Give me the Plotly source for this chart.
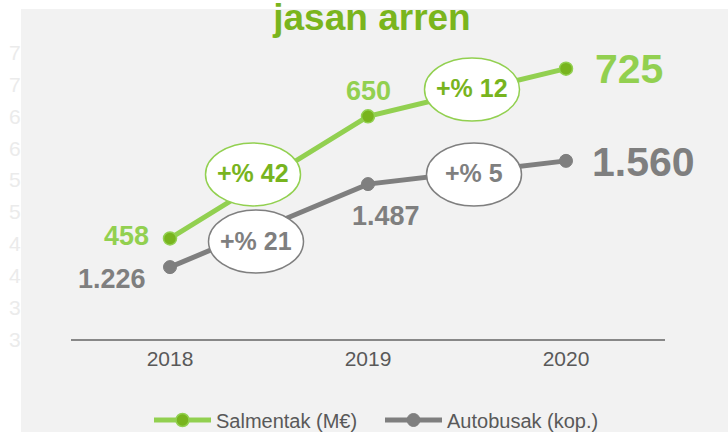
import plotly.graph_objects as go

# ---------------- data ----------------
years = ["2018", "2019", "2020"]
sales = [458, 650, 725]            # Salmentak (M€)
buses = [1226, 1487, 1560]         # Autobusak (kop.)
sales_growth = ["+% 42", "+% 12"]
buses_growth = ["+% 21", "+% 5"]
y_tick_vals = [300, 350, 400, 450, 500, 550, 600, 650, 700, 750]
title_text = "jasan arren"
series_names = ["Salmentak (M€)", "Autobusak (kop.)"]

# ---------------- styles ----------------
FONT = "Liberation Sans, Arial, sans-serif"
GREEN_LINE = "#92d050"
GREEN_DARK = "#78b41e"
GREY = "#7f7f7f"
TXT = "#595959"
W, H = 728, 432
ML, MR, MT, MB = 71, 63, 40, 93
PW = W - ML - MR
PH = H - MT - MB

def fmt(v):
    return f"{v:,}".replace(",", ".")

fig = go.Figure()
fig.add_trace(go.Scatter(
    x=years, y=sales, name=series_names[0], mode="lines+markers",
    line=dict(color=GREEN_LINE, width=5),
    marker=dict(size=13, color=GREEN_DARK, line=dict(color=GREEN_LINE, width=1.5)),
    yaxis="y", cliponaxis=False))
fig.add_trace(go.Scatter(
    x=years, y=buses, name=series_names[1], mode="lines+markers",
    line=dict(color=GREY, width=5),
    marker=dict(size=13, color=GREY, line=dict(color=GREY, width=1)),
    yaxis="y2", cliponaxis=False))

shapes = [dict(type="rect", xref="paper", yref="paper",
               x0=(21 - ML) / PW, x1=1 + MR / PW,
               y0=-MB / PH, y1=1 + (MT - 9) / PH,
               fillcolor="#f2f2f2", line=dict(width=0), layer="below")]
annotations = []

# data labels (offsets in px: xshift, yshift, xanchor, size)
sales_lbl_style = [(-19, 2, "right", 27), (0, 25, "center", 27), (27, 0, "left", 41)]
buses_lbl_style = [(-22, -12, "right", 27), (18, -32, "center", 27), (24, -1, "left", 41)]
for i, v in enumerate(sales):
    dx, dy, xa, sz = sales_lbl_style[i]
    annotations.append(dict(x=i, y=v, xref="x", yref="y", text=fmt(v),
                            showarrow=False, xshift=dx, yshift=dy, xanchor=xa, yanchor="middle",
                            font=dict(family=FONT, size=sz, color=GREEN_LINE, weight="bold")))
for i, v in enumerate(buses):
    dx, dy, xa, sz = buses_lbl_style[i]
    annotations.append(dict(x=i, y=v, xref="x", yref="y2", text=fmt(v),
                            showarrow=False, xshift=dx, yshift=dy, xanchor=xa, yanchor="middle",
                            font=dict(family=FONT, size=sz, color=GREY, weight="bold")))

# growth ellipses (px offsets from segment midpoint)
EW, EH = 95, 63
sales_ell_off = [(-16, 3), (5, 3)]
buses_ell_off = [(-13, -16), (7, -2)]
for series, growth, offs, yref, col, tcol in [
        (sales, sales_growth, sales_ell_off, "y", GREEN_LINE, GREEN_DARK),
        (buses, buses_growth, buses_ell_off, "y2", GREY, GREY)]:
    for i, g in enumerate(growth):
        xm = i + 0.5
        ym = (series[i] + series[i + 1]) / 2
        dx, dy = offs[i]
        shapes.append(dict(type="circle", xref="x", yref=yref,
                           xsizemode="pixel", ysizemode="pixel",
                           xanchor=xm, yanchor=ym,
                           x0=dx - EW / 2, x1=dx + EW / 2, y0=dy - EH / 2, y1=dy + EH / 2,
                           fillcolor="white", line=dict(color=col, width=1.5), layer="above"))
        annotations.append(dict(x=xm, y=ym, xref="x", yref=yref, text=g, showarrow=False,
                                xshift=dx, yshift=dy + 1, xanchor="center", yanchor="middle",
                                font=dict(family=FONT, size=25, color=tcol, weight="bold")))

# faint clipped y tick digits at the far left
for t in y_tick_vals:
    annotations.append(dict(x=(23 - ML) / PW, y=t, xref="paper", yref="y", text=str(t)[0],
                            showarrow=False, xanchor="right", yanchor="middle",
                            font=dict(family=FONT, size=21, color="#ebebeb")))

fig.update_layout(
    width=W, height=H,
    margin=dict(l=ML, r=MR, t=MT, b=MB, autoexpand=False),
    paper_bgcolor="white", plot_bgcolor="rgba(0,0,0,0)",
    title=dict(text=title_text, x=372 / W, xref="container", xanchor="center",
               y=1 - 17 / H, yref="container", yanchor="middle",
               font=dict(family=FONT, size=37, color="#7ab51d", weight="bold")),
    xaxis=dict(type="category", range=[-0.5, 2.5], showgrid=False, zeroline=False,
               showline=True, linecolor="#888888", linewidth=1.5, ticks="",
               tickfont=dict(family=FONT, size=21, color=TXT)),
    yaxis=dict(range=[300, 770], showgrid=False, zeroline=False, showticklabels=False),
    yaxis2=dict(range=[1000, 1940], overlaying="y", side="right", showgrid=False,
                zeroline=False, showticklabels=False),
    showlegend=True,
    legend=dict(orientation="h", x=(149 - ML) / PW, xanchor="left",
                y=(H - 420) / H, yref="container", yanchor="middle",
                font=dict(family=FONT, size=20, color=TXT), itemwidth=57,
                entrywidth=159, bgcolor="rgba(0,0,0,0)"),
    shapes=shapes, annotations=annotations,
)

fig.write_html("out.html", config={"displayModeBar": False},
               post_script="document.body.style.margin='0';")
